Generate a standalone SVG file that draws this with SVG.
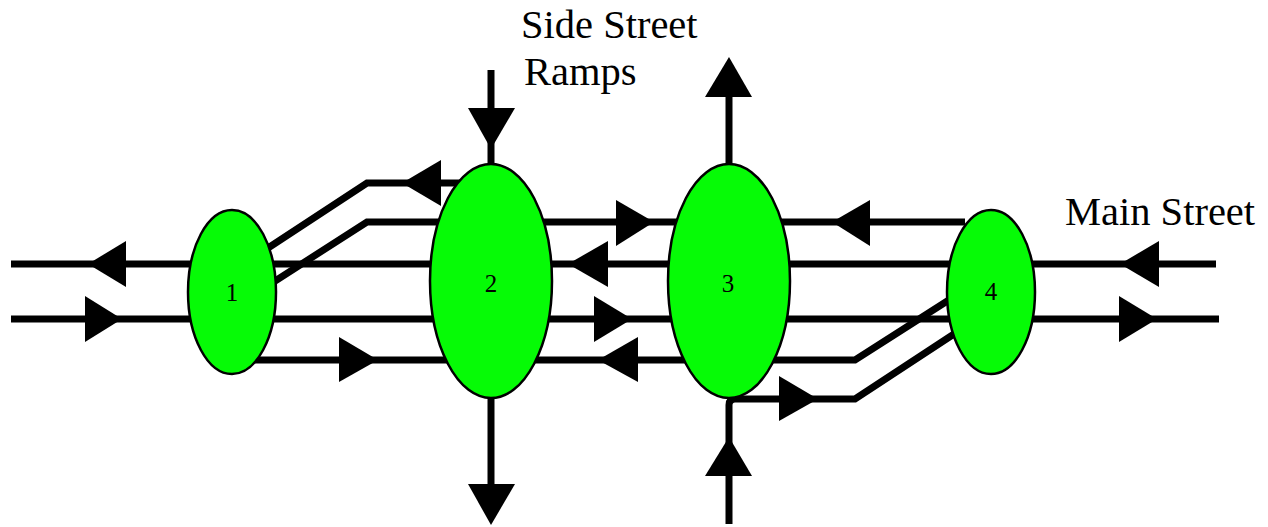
<svg xmlns="http://www.w3.org/2000/svg" width="1268" height="527" viewBox="0 0 1268 527">
<style>
.c{fill:none;stroke:#000;stroke-width:7}
.a{fill:#000;stroke:none}
.n{fill:#06fb06;stroke:#000;stroke-width:2.5}
.t{font-family:"Liberation Serif",serif;fill:#000}
.l{font-size:40.5px}
.m{font-size:25px;text-anchor:middle}
</style>
<rect width="1268" height="527" fill="#fff"/>
<g id="connectors">
<path class="c" d="M11 264H1216"/>
<path class="c" d="M11 319H1219"/>
<path class="c" d="M268 248L367 183H462"/>
<path class="c" d="M272 283L367 222H965"/>
<path class="c" d="M255 360H855L952 298"/>
<path class="c" d="M735 399H855L954 334"/>
<path class="c" d="M491 70V170"/>
<path class="c" d="M491 395V490"/>
<path class="c" d="M729 524V405Q729 399 735 399"/>
<path class="c" d="M729 90V170"/>
<path class="a" d="M88 264L126 241V287Z"/>
<path class="a" d="M122 319L85 296V342Z"/>
<path class="a" d="M402 183L441 160V206Z"/>
<path class="a" d="M654 222L616 200V246Z"/>
<path class="a" d="M832 222L870 200V246Z"/>
<path class="a" d="M568 264L608 241V287Z"/>
<path class="a" d="M632 319L594 296V342Z"/>
<path class="a" d="M378 360L339 337V382Z"/>
<path class="a" d="M598 360L638 337V382Z"/>
<path class="a" d="M818 399L779 376V421Z"/>
<path class="a" d="M1120 264L1159 241V287Z"/>
<path class="a" d="M1157 319L1119 296V342Z"/>
<path class="a" d="M491 149L468 108H515Z"/>
<path class="a" d="M491 525L468 484H515Z"/>
<path class="a" d="M729 57L705 97H752Z"/>
<path class="a" d="M729 437L705 476H752Z"/>
</g>
<g id="node-1"><ellipse class="n" cx="232" cy="292" rx="44" ry="82"/><text class="t m" x="232" y="301">1</text></g>
<g id="node-2"><ellipse class="n" cx="491" cy="281" rx="61" ry="117"/><text class="t m" x="491" y="292">2</text></g>
<g id="node-3"><ellipse class="n" cx="729" cy="281" rx="61" ry="117"/><text class="t m" x="728" y="292">3</text></g>
<g id="node-4"><ellipse class="n" cx="991" cy="292" rx="44" ry="82"/><text class="t m" x="991" y="300">4</text></g>
<g id="labels">
<text class="t l" x="521" y="38">Side Street</text>
<text class="t l" x="524" y="85">Ramps</text>
<text class="t l" x="1065" y="225">Main Street</text>
</g>
</svg>
